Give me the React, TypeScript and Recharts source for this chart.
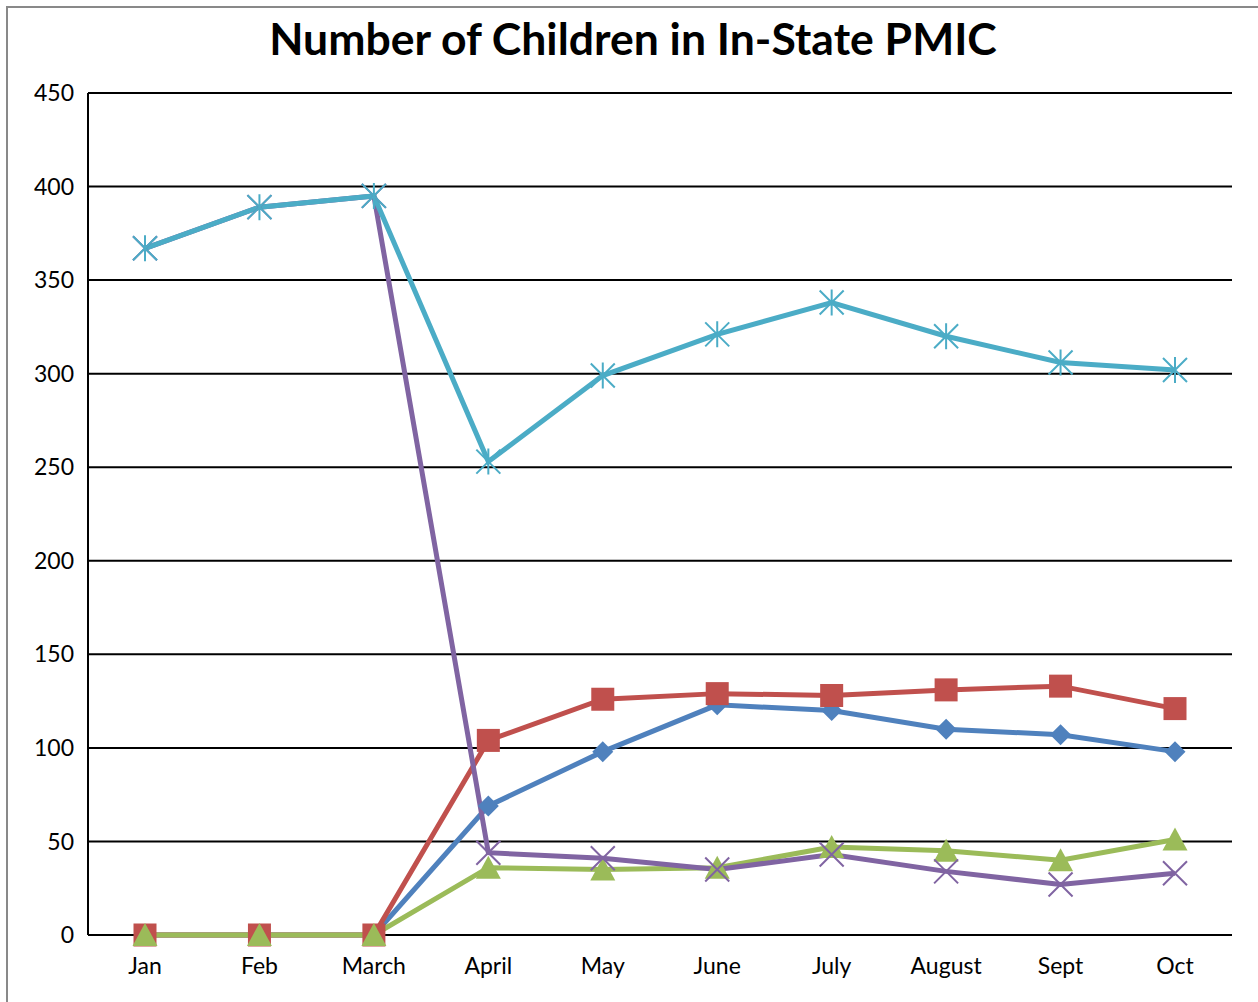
import React from 'react';
import { LineChart, Line, XAxis, YAxis, CartesianGrid } from 'recharts';

const months = ['Jan', 'Feb', 'March', 'April', 'May', 'June', 'July', 'August', 'Sept', 'Oct'];
const seriesBlue = [0, 0, 0, 69, 98, 123, 120, 110, 107, 98];
const seriesRed = [0, 0, 0, 104, 126, 129, 128, 131, 133, 121];
const seriesGreen = [0, 0, 0, 36, 35, 36, 47, 45, 40, 51];
const seriesPurple = [367, 389, 395, 44, 41, 35, 43, 34, 27, 33];
const seriesCyan = [367, 389, 395, 253, 299, 321, 338, 320, 306, 302];
const yTicks = [0, 50, 100, 150, 200, 250, 300, 350, 400, 450];

const data = months.map((m, i) => ({
  month: m,
  blue: seriesBlue[i],
  red: seriesRed[i],
  green: seriesGreen[i],
  purple: seriesPurple[i],
  cyan: seriesCyan[i],
}));

const FONT = 'Lato, "Open Sans", sans-serif';

const Diamond = (p: any) => {
  const { cx, cy, index } = p;
  if (cx == null || cy == null) return <g key={`d${index}`} />;
  const r = 10.5;
  return <path key={`d${index}`} d={`M${cx},${cy - r}L${cx + r},${cy}L${cx},${cy + r}L${cx - r},${cy}Z`} fill="#4F81BD" />;
};
const Square = (p: any) => {
  const { cx, cy, index } = p;
  if (cx == null || cy == null) return <g key={`s${index}`} />;
  const r = 11.5;
  return <rect key={`s${index}`} x={cx - r} y={cy - r} width={2 * r} height={2 * r} fill="#C0504D" />;
};
const Triangle = (p: any) => {
  const { cx, cy, index } = p;
  if (cx == null || cy == null) return <g key={`t${index}`} />;
  return <path key={`t${index}`} d={`M${cx},${cy - 12}L${cx + 12.5},${cy + 11}L${cx - 12.5},${cy + 11}Z`} fill="#9BBB59" />;
};
const Cross = (p: any) => {
  const { cx, cy, index } = p;
  if (cx == null || cy == null) return <g key={`x${index}`} />;
  const r = 12;
  return (
    <path key={`x${index}`} d={`M${cx - r},${cy - r}L${cx + r},${cy + r}M${cx - r},${cy + r}L${cx + r},${cy - r}`} stroke="#8064A2" strokeWidth={2} fill="none" />
  );
};
const Star = (p: any) => {
  const { cx, cy, index } = p;
  if (cx == null || cy == null) return <g key={`k${index}`} />;
  const r = 12;
  return (
    <path key={`k${index}`} d={`M${cx - r},${cy - r}L${cx + r},${cy + r}M${cx - r},${cy + r}L${cx + r},${cy - r}M${cx},${cy - r - 1}L${cx},${cy + r + 1}`} stroke="#4BACC6" strokeWidth={2} fill="none" />
  );
};

export default function App() {
  return (
    <div style={{ position: 'absolute', left: 0, top: 0, width: 1258, height: 1002, overflow: 'hidden', background: '#fff' }}>
      <div style={{ position: 'absolute', left: 6, top: 6, width: 1260, height: 1010, border: '2px solid #898989', boxSizing: 'border-box' }} />
      <div style={{ position: 'absolute', left: 0, top: 12, width: 1266, textAlign: 'center', fontFamily: FONT, fontWeight: 700, fontSize: 44.5, color: '#000', lineHeight: '52px' }}>
        Number of Children in In-State PMIC
      </div>
      <div style={{ position: 'absolute', left: 0, top: 0 }}>
        <LineChart width={1258} height={1002} data={data} margin={{ top: 93, right: 26, bottom: 0, left: 0 }}>
          <CartesianGrid vertical={false} stroke="#000" strokeWidth={2} />
          <XAxis
            dataKey="month"
            height={67}
            axisLine={false}
            tickLine={false}
            tickSize={0}
            tickMargin={23}
            padding={{ left: 57, right: 57 }}
            tick={{ fill: '#000', fontSize: 23, fontFamily: FONT }}
            interval={0}
          />
          <YAxis
            width={88}
            domain={[0, 450]}
            ticks={yTicks}
            axisLine={{ stroke: '#000', strokeWidth: 2 }}
            tickLine={false}
            tickSize={0}
            tickMargin={14}
            tick={{ fill: '#000', fontSize: 23, fontFamily: FONT }}
          />
          <Line dataKey="blue" stroke="#4F81BD" strokeWidth={5} dot={Diamond} isAnimationActive={false} />
          <Line dataKey="red" stroke="#C0504D" strokeWidth={5} dot={Square} isAnimationActive={false} />
          <Line dataKey="green" stroke="#9BBB59" strokeWidth={5} dot={Triangle} isAnimationActive={false} />
          <Line dataKey="purple" stroke="#8064A2" strokeWidth={5} dot={Cross} isAnimationActive={false} />
          <Line dataKey="cyan" stroke="#4BACC6" strokeWidth={5} dot={Star} isAnimationActive={false} />
        </LineChart>
      </div>
    </div>
  );
}
